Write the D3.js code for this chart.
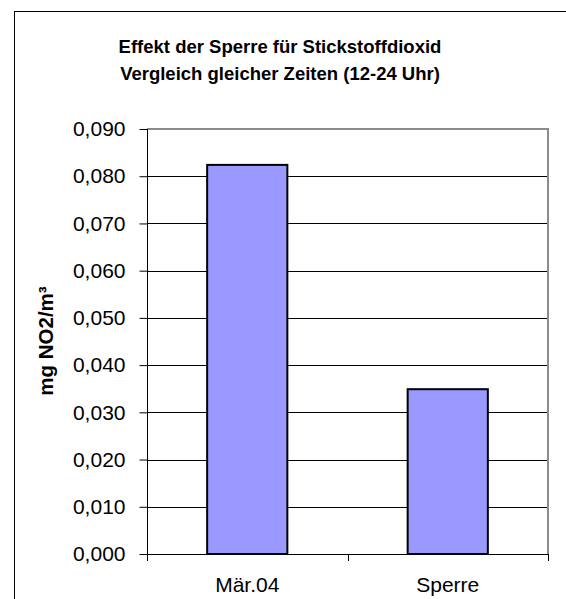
<!DOCTYPE html>
<html>
<head>
<meta charset="utf-8">
<script src="https://cdn.jsdelivr.net/npm/d3@7"></script>
<style>
  html, body { margin: 0; padding: 0; background: #fff; }
  svg { display: block; font-family: Arial, "Liberation Sans", sans-serif; }
</style>
</head>
<body>
<svg id="chart" width="566" height="599"></svg>
<script>
// NO2 averages (mg/m³), same time window 12-24 h
const categories = ["Mär.04", "Sperre"];
const values = [0.0824, 0.0349];
const yTicks = [0, 0.01, 0.02, 0.03, 0.04, 0.05, 0.06, 0.07, 0.08, 0.09];
const titleLines = ["Effekt der Sperre für Stickstoffdioxid", "Vergleich gleicher Zeiten (12-24 Uhr)"];
const yLabel = "mg NO2/m³";

const svg = d3.select("#chart");
const plot = { left: 147, top: 129, right: 548, bottom: 554 };

// outer chart frame (extends past the right/bottom edge)
svg.append("rect")
  .attr("x", 14.5).attr("y", 11.5)
  .attr("width", 600).attr("height", 620)
  .attr("fill", "#fff").attr("stroke", "#000").attr("stroke-width", 1);

const x = d3.scaleBand()
  .domain(categories)
  .range([plot.left, plot.right])
  .paddingInner(0.6)
  .paddingOuter(0.3);

const y = d3.scaleLinear()
  .domain([0, 0.09])
  .range([plot.bottom, plot.top]);

const fmt = v => d3.format(".3f")(v).replace(".", ",");

// horizontal gridlines
svg.append("g")
  .selectAll("line")
  .data(yTicks.filter(t => t > 0 && t < 0.09))
  .join("line")
  .attr("x1", plot.left).attr("x2", plot.right)
  .attr("y1", d => Math.round(y(d)) + 0.5).attr("y2", d => Math.round(y(d)) + 0.5)
  .attr("stroke", "#000").attr("stroke-width", 1);

// gray top and right border of the plot area
svg.append("path")
  .attr("d", `M${plot.left},${plot.top}H${plot.right}V${plot.bottom}`)
  .attr("fill", "none").attr("stroke", "#8c8c8c").attr("stroke-width", 2);

// bars
svg.append("g")
  .selectAll("rect")
  .data(values)
  .join("rect")
  .attr("x", (d, i) => x(categories[i]))
  .attr("y", d => y(d))
  .attr("width", x.bandwidth())
  .attr("height", d => y(0) - y(d))
  .attr("fill", "#9999ff")
  .attr("stroke", "#000")
  .attr("stroke-width", 2);

// y axis
const yAxis = d3.axisLeft(y)
  .tickValues(yTicks)
  .tickFormat(fmt)
  .tickSize(8)
  .tickPadding(14);
const gy = svg.append("g")
  .attr("transform", `translate(${plot.left + 0.5},0)`)
  .call(yAxis);
gy.select(".domain").attr("stroke", "#000").attr("d", `M0,${plot.top}V${plot.bottom}`);
gy.selectAll(".tick line").attr("stroke", "#000");
gy.selectAll(".tick text")
  .attr("font-size", 21)
  .attr("font-family", "Arial, 'Liberation Sans', sans-serif")
  .attr("fill", "#000");

// x axis: tick marks at band boundaries
const bounds = [plot.left, (plot.left + plot.right) / 2, plot.right];
const gx = svg.append("g");
gx.append("line")
  .attr("x1", plot.left).attr("x2", plot.right)
  .attr("y1", plot.bottom + 0.5).attr("y2", plot.bottom + 0.5)
  .attr("stroke", "#000");
gx.selectAll("line.tk")
  .data(bounds)
  .join("line")
  .attr("class", "tk")
  .attr("x1", d => Math.round(d) + 0.5).attr("x2", d => Math.round(d) + 0.5)
  .attr("y1", plot.bottom).attr("y2", plot.bottom + 7)
  .attr("stroke", "#000");
gx.selectAll("text")
  .data(categories)
  .join("text")
  .attr("x", d => x(d) + x.bandwidth() / 2)
  .attr("y", 592)
  .attr("text-anchor", "middle")
  .attr("font-size", 21)
  .attr("fill", "#000")
  .text(d => d);

// title
svg.append("g")
  .selectAll("text")
  .data(titleLines)
  .join("text")
  .attr("x", 280)
  .attr("y", (d, i) => 53 + i * 27)
  .attr("text-anchor", "middle")
  .attr("font-size", 18.5)
  .attr("font-weight", "bold")
  .attr("fill", "#000")
  .text(d => d);

// y axis title
svg.append("text")
  .attr("transform", "translate(53,341) rotate(-90)")
  .attr("text-anchor", "middle")
  .attr("font-size", 20.5)
  .attr("font-weight", "bold")
  .attr("fill", "#000")
  .text(yLabel);
</script>
</body>
</html>
